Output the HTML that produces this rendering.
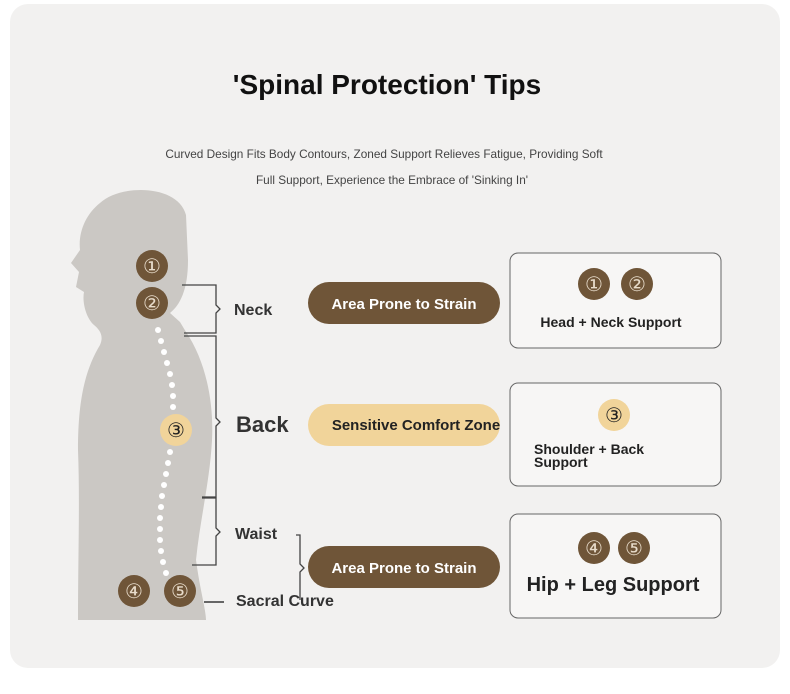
<!DOCTYPE html>
<html><head><style>
body{margin:0;background:#fff;width:790px;height:689px;overflow:hidden;font-family:"Liberation Sans",sans-serif}
</style></head><body>
<svg width="790" height="689" xmlns="http://www.w3.org/2000/svg" font-family="Liberation Sans, sans-serif">
<rect x="10" y="4" width="770" height="664" rx="18" fill="#f2f1f0"/>
<text x="387" y="94" text-anchor="middle" font-size="28" font-weight="bold" fill="#111">'Spinal Protection' Tips</text>
<text x="384" y="158" text-anchor="middle" font-size="11.8" fill="#444">Curved Design Fits Body Contours, Zoned Support Relieves Fatigue, Providing Soft</text>
<text x="392" y="184" text-anchor="middle" font-size="11.8" fill="#444">Full Support, Experience the Embrace of 'Sinking In'</text>
<path d="M100,203 C120,184 178,184 186,215 L188,260 C188,290 180,305 170,313 L180,322 L186,332 C205,360 214,400 212,440 C210,480 200,520 196,560 C200,590 206,610 206,620 L78,620 C78,560 80,500 78,450 C78,400 85,370 100,345 C104,336 100,330 94,325 C86,318 82,302 84,292 L76,287 L79,272 L71,263 L80,250 C78,232 86,214 100,203 Z" fill="#cbc8c4"/>
<g fill="#fff">
<circle cx="158" cy="330" r="3"/><circle cx="161" cy="341" r="3"/><circle cx="164" cy="352" r="3"/><circle cx="167" cy="363" r="3"/><circle cx="170" cy="374" r="3"/><circle cx="172" cy="385" r="3"/><circle cx="173" cy="396" r="3"/><circle cx="173" cy="407" r="3"/>
<circle cx="170" cy="452" r="3"/><circle cx="168" cy="463" r="3"/><circle cx="166" cy="474" r="3"/><circle cx="164" cy="485" r="3"/><circle cx="162" cy="496" r="3"/><circle cx="161" cy="507" r="3"/><circle cx="160" cy="518" r="3"/><circle cx="160" cy="529" r="3"/><circle cx="160" cy="540" r="3"/><circle cx="161" cy="551" r="3"/><circle cx="163" cy="562" r="3"/><circle cx="166" cy="573" r="3"/>
</g>
<g font-size="20" text-anchor="middle">
<circle cx="152" cy="266" r="16" fill="#6f5538"/><text x="152" y="273" fill="#e8dccb">①</text>
<circle cx="152" cy="303" r="16" fill="#6f5538"/><text x="152" y="310" fill="#e8dccb">②</text>
<circle cx="176" cy="430" r="16" fill="#f1d49a"/><text x="176" y="437" fill="#222">③</text>
<circle cx="134" cy="591" r="16" fill="#6f5538"/><text x="134" y="598" fill="#e8dccb">④</text>
<circle cx="180" cy="591" r="16" fill="#6f5538"/><text x="180" y="598" fill="#e8dccb">⑤</text>
</g>
<g fill="none" stroke="#444" stroke-width="1.3">
<path d="M182,285 H216 V305 L220,309 L216,313 V333 H184"/>
<path d="M184,336 H216 V418 L220,422 L216,426 V497 H202"/>
<path d="M202,498 H216 V528 L220,532 L216,536 V565 H192"/>
<path d="M296,535 H300 V564 L304,568 L300,572 V600"/>
<path d="M204,602 H224" stroke="#666" stroke-width="2"/>
</g>
<g font-weight="bold" fill="#333">
<text x="234" y="315" font-size="16">Neck</text>
<text x="236" y="432" font-size="22">Back</text>
<text x="235" y="539" font-size="16">Waist</text>
<text x="236" y="606" font-size="16">Sacral Curve</text>
</g>
<rect x="308" y="282" width="192" height="42" rx="21" fill="#6f5538"/>
<text x="404" y="309" text-anchor="middle" font-size="15" font-weight="bold" fill="#fff">Area Prone to Strain</text>
<rect x="308" y="404" width="192" height="42" rx="21" fill="#f1d49a"/>
<text x="416" y="430" text-anchor="middle" font-size="15" font-weight="bold" fill="#222">Sensitive Comfort Zone</text>
<rect x="308" y="546" width="192" height="42" rx="21" fill="#6f5538"/>
<text x="404" y="573" text-anchor="middle" font-size="15" font-weight="bold" fill="#fff">Area Prone to Strain</text>
<g fill="#f7f6f5" stroke="#666" stroke-width="1">
<rect x="510" y="253" width="211" height="95" rx="8"/>
<rect x="510" y="383" width="211" height="103" rx="8"/>
<rect x="510" y="514" width="211" height="104" rx="8"/>
</g>
<g font-size="20" text-anchor="middle">
<circle cx="594" cy="284" r="16" fill="#6f5538"/><text x="594" y="291" fill="#e8dccb">①</text>
<circle cx="637" cy="284" r="16" fill="#6f5538"/><text x="637" y="291" fill="#e8dccb">②</text>
<circle cx="614" cy="415" r="16" fill="#f1d49a"/><text x="614" y="422" fill="#222">③</text>
<circle cx="594" cy="548" r="16" fill="#6f5538"/><text x="594" y="555" fill="#e8dccb">④</text>
<circle cx="634" cy="548" r="16" fill="#6f5538"/><text x="634" y="555" fill="#e8dccb">⑤</text>
</g>
<g font-weight="bold" fill="#222">
<text x="611" y="327" text-anchor="middle" font-size="14">Head + Neck Support</text>
<text x="534" y="454" font-size="14">Shoulder + Back</text>
<text x="534" y="467" font-size="14">Support</text>
<text x="613" y="591" text-anchor="middle" font-size="20">Hip + Leg Support</text>
</g>
</svg>
</body></html>
